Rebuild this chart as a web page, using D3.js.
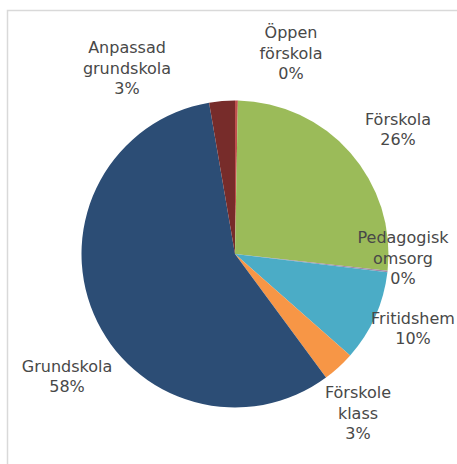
<!DOCTYPE html>
<html>
<head>
<meta charset="utf-8">
<script src="https://cdn.jsdelivr.net/npm/d3@7"></script>
<style>
  html, body { margin: 0; padding: 0; background: #fff; }
  svg { display: block; }
</style>
</head>
<body>
<svg id="chart" width="457" height="464"></svg>
<script>
// Data
const categories = ["Öppen förskola", "Förskola", "Pedagogisk omsorg", "Fritidshem", "Förskoleklass", "Grundskola", "Anpassad grundskola"];
const values = [0.3, 26.45, 0.15, 9.6, 3.4, 57.4, 2.7];
const labelLines = [
  ["Öppen", "förskola"],
  ["Förskola"],
  ["Pedagogisk", "omsorg"],
  ["Fritidshem"],
  ["Förskole", "klass"],
  ["Grundskola"],
  ["Anpassad", "grundskola"]
];
const percentLabels = ["0%", "26%", "0%", "10%", "3%", "58%", "3%"];
const colors = ["#c0504d", "#9bbb59", "#a08aa8", "#4bacc6", "#f79646", "#2c4d75", "#772c2a"];

// Layout (label block centres relative to pie centre)
const labelOffsets = [[56, -201], [163, -125], [168, 4], [178, 74], [123, 159], [-168, 122], [-108, -186]];

const svg = d3.select("#chart");
const W = 457, H = 464;
const cx = 235, cy = 254, R = 153.5;

// frame
svg.append("rect")
  .attr("x", 7.5).attr("y", 10.5)
  .attr("width", W).attr("height", H)
  .attr("fill", "#fff")
  .attr("stroke", "#d9d9d9")
  .attr("stroke-width", 1.5);

const data = categories.map((c, i) => ({ name: c, value: values[i], i }));
const pie = d3.pie().value(d => d.value).sort(null);
const arc = d3.arc().innerRadius(0).outerRadius(R);
const color = d3.scaleOrdinal().domain(categories).range(colors);

const g = svg.append("g").attr("transform", `translate(${cx},${cy})`);
g.selectAll("path.slice")
  .data(pie(data))
  .join("path")
  .attr("class", "slice")
  .attr("d", arc)
  .attr("fill", d => color(d.data.name))
  .attr("stroke", "none");

const lineH = 20.5;
const labels = g.selectAll("text.lbl")
  .data(data)
  .join("text")
  .attr("class", "lbl")
  .attr("text-anchor", "middle")
  .attr("font-family", "'DejaVu Sans', sans-serif")
  .attr("font-size", 16)
  .attr("fill", "#484848");

labels.each(function(d) {
  const lines = labelLines[d.i].concat([percentLabels[d.i]]);
  const [ox, oy] = labelOffsets[d.i];
  const top = oy - (lines.length - 1) * lineH / 2;
  const t = d3.select(this);
  lines.forEach((ln, k) => {
    t.append("tspan")
      .attr("x", ox)
      .attr("y", top + k * lineH)
      .attr("dy", "0.36em")
      .text(ln);
  });
});
</script>
</body>
</html>
